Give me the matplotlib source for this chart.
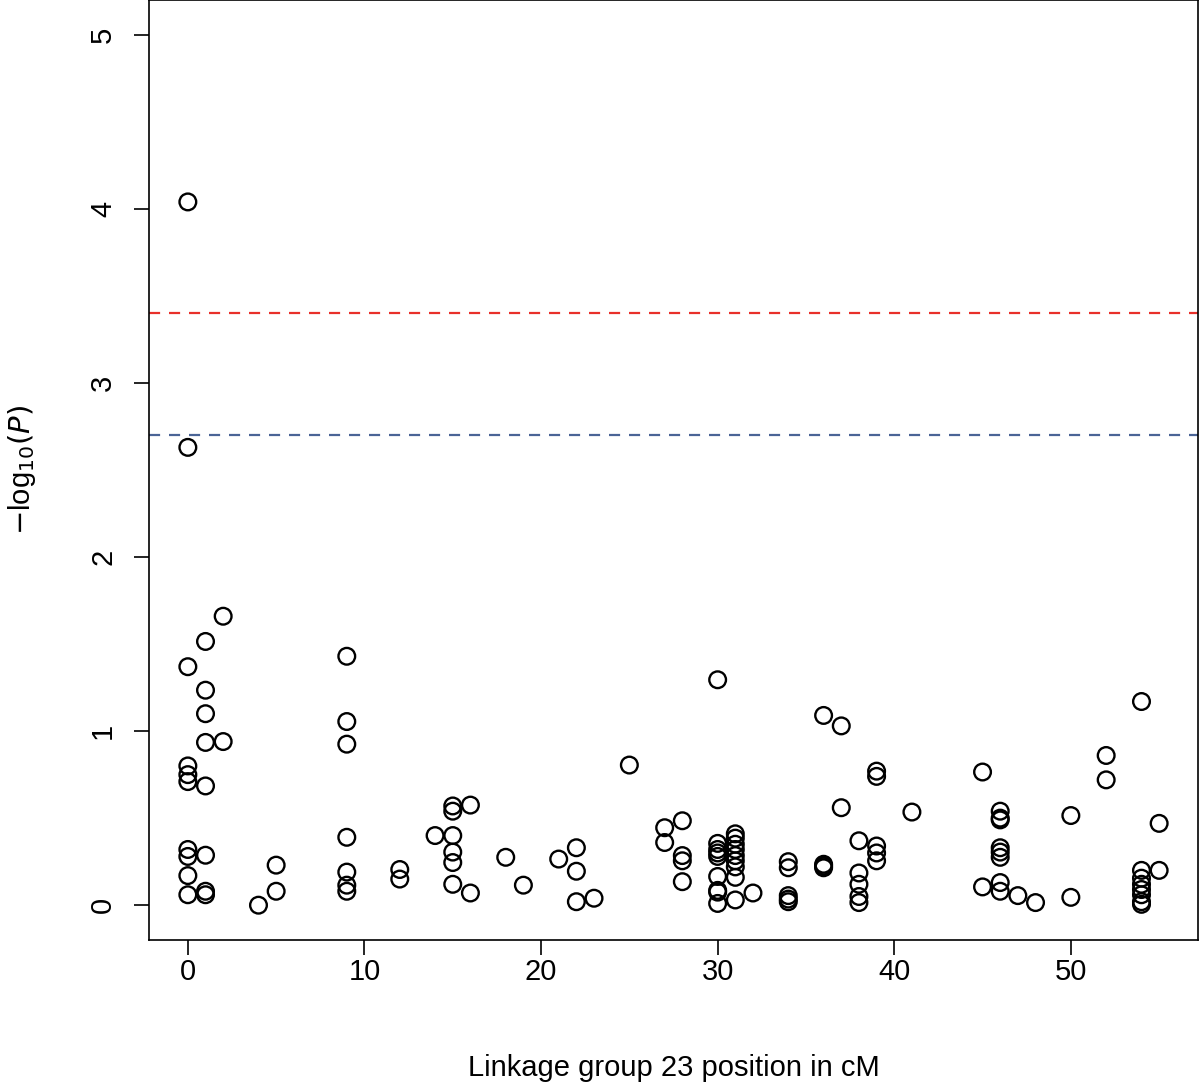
import matplotlib
matplotlib.use("Agg")
import matplotlib.pyplot as plt

# marker positions (cM) and -log10(P) values, grouped by position
positions = (
    [0] * 10 + [1] * 8 + [2] * 2 + [4] + [5] * 2 + [9] * 7 + [12] * 2 + [14]
    + [15] * 6 + [16] * 2 + [18] + [19] + [21] + [22] * 3 + [23] + [25]
    + [27] * 2 + [28] * 4 + [30] * 9 + [31] * 9 + [32] + [34] * 5 + [36] * 4
    + [37] * 2 + [38] * 5 + [39] * 5 + [41] + [45] * 2 + [46] * 8 + [47] + [48]
    + [50] * 2 + [52] * 2 + [54] * 8 + [55] * 2
)
neg_log_p = [
    4.04, 2.63, 1.37, 0.80, 0.75, 0.71, 0.32, 0.28, 0.17, 0.06,          # 0
    1.515, 1.235, 1.10, 0.935, 0.685, 0.287, 0.08, 0.06,                  # 1
    1.66, 0.94,                                                           # 2
    0.0,                                                                  # 4
    0.23, 0.08,                                                           # 5
    1.43, 1.055, 0.925, 0.39, 0.19, 0.115, 0.08,                          # 9
    0.205, 0.15,                                                          # 12
    0.40,                                                                 # 14
    0.57, 0.54, 0.40, 0.305, 0.245, 0.12,                                 # 15
    0.575, 0.07,                                                          # 16
    0.275,                                                                # 18
    0.115,                                                                # 19
    0.265,                                                                # 21
    0.33, 0.195, 0.02,                                                    # 22
    0.04,                                                                 # 23
    0.805,                                                                # 25
    0.445, 0.36,                                                          # 27
    0.485, 0.285, 0.255, 0.135,                                           # 28
    1.295, 0.355, 0.32, 0.30, 0.28, 0.165, 0.085, 0.075, 0.01,            # 30
    0.41, 0.385, 0.35, 0.32, 0.285, 0.255, 0.22, 0.16, 0.03,              # 31
    0.07,                                                                 # 32
    0.25, 0.215, 0.055, 0.035, 0.02,                                      # 34
    1.09, 0.235, 0.225, 0.215,                                            # 36
    1.03, 0.56,                                                           # 37
    0.37, 0.185, 0.12, 0.05, 0.015,                                       # 38
    0.77, 0.74, 0.34, 0.30, 0.255,                                        # 39
    0.535,                                                                # 41
    0.765, 0.105,                                                         # 45
    0.54, 0.50, 0.49, 0.33, 0.305, 0.275, 0.13, 0.08,                     # 46
    0.055,                                                                # 47
    0.015,                                                                # 48
    0.515, 0.045,                                                         # 50
    0.86, 0.72,                                                           # 52
    1.17, 0.20, 0.155, 0.12, 0.09, 0.06, 0.02, 0.005,                     # 54
    0.47, 0.20,                                                           # 55
]

threshold_values = [3.4, 2.7]
threshold_colors = ["#E8302A", "#4A6496"]
x_ticks = [0, 10, 20, 30, 40, 50]
y_ticks = [0, 1, 2, 3, 4, 5]

plt.rcParams["font.family"] = ["Liberation Sans", "DejaVu Sans"]

W, H = 1200, 1086
fig = plt.figure(figsize=(W / 100, H / 100), dpi=100)
ax = fig.add_axes([149 / W, 1 - 940 / H, 1049 / W, 940 / H])

ax.scatter(positions, neg_log_p, s=12 ** 2, facecolors="none",
           edgecolors="black", linewidths=1.7, zorder=3)

for v, c in zip(threshold_values, threshold_colors):
    ax.axhline(v, color=c, linestyle=(0, (5, 4)), linewidth=1.6, zorder=2)

ax.set_xlim(-2.2, 57.2)
ax.set_ylim(-0.2, 5.2)
ax.set_xticks(x_ticks)
ax.set_yticks(y_ticks)
ax.tick_params(axis="both", length=11, width=1.2, labelsize=21, color="black")
ax.tick_params(axis="x", pad=2)
ax.tick_params(axis="y", pad=12)
plt.setp(ax.get_yticklabels(), rotation=90, va="center")

for sp in ax.spines.values():
    sp.set_linewidth(1.2)

ax.set_xlabel("Linkage group 23 position in cM", fontsize=21)
ax.set_ylabel(r"$-\mathregular{log}_{10}(\mathit{P})$", fontsize=21)
ax.xaxis.set_label_coords(0.5, -(1068 - 940) / 940)
ax.xaxis.label.set_verticalalignment("center")
ax.yaxis.set_label_coords(-(149 - 22) / 1049, 0.5)
ax.yaxis.label.set_verticalalignment("center")

fig.savefig("out.png", dpi=100)
